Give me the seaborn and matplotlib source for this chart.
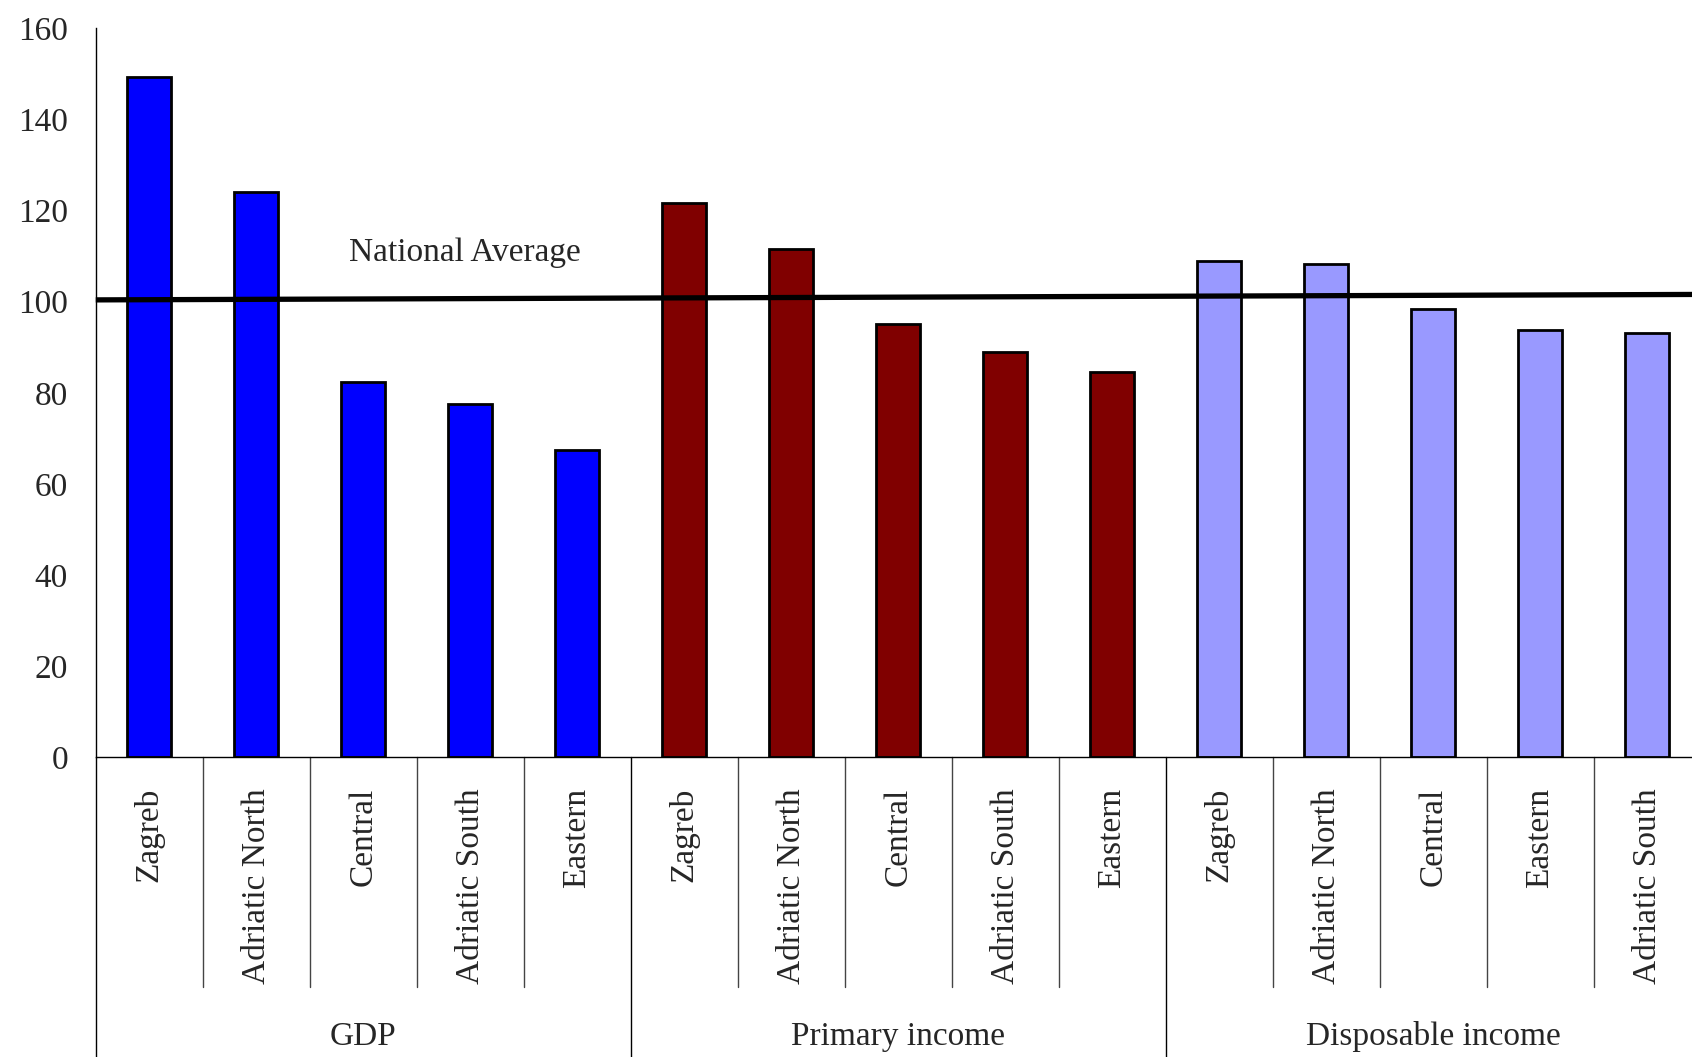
import pandas as pd
import numpy as np
import matplotlib
matplotlib.use('Agg')
import matplotlib.pyplot as plt
import seaborn as sns

# values (index, national average = 100)
groups = ['GDP', 'Primary income', 'Disposable income']
gdp_regions = ['Zagreb', 'Adriatic North', 'Central', 'Adriatic South', 'Eastern']
gdp_values = [149.3, 124.0, 82.4, 77.5, 67.4]
primary_regions = ['Zagreb', 'Adriatic North', 'Central', 'Adriatic South', 'Eastern']
primary_values = [121.6, 111.5, 95.1, 88.9, 84.5]
disposable_regions = ['Zagreb', 'Adriatic North', 'Central', 'Eastern', 'Adriatic South']
disposable_values = [108.9, 108.3, 98.3, 93.9, 93.2]
group_colors = ['#0000FF', '#800000', '#9999FF']
national_avg = [100.4, 101.6]   # line endpoints at left / right edge of plot
yticks = [0, 20, 40, 60, 80, 100, 120, 140, 160]

rows = []
for g, regs, vals in zip(groups, [gdp_regions, primary_regions, disposable_regions],
                         [gdp_values, primary_values, disposable_values]):
    for r, v in zip(regs, vals):
        rows.append({'key': g + '|' + r, 'region': r, 'group': g, 'value': v})
df = pd.DataFrame(rows)

sns.set_style('white')
plt.rcParams['font.family'] = ['Liberation Serif', 'DejaVu Serif']
plt.rcParams['font.size'] = 24

fig = plt.figure(figsize=(16.92, 10.57), dpi=100)
ax = fig.add_axes([0.0566, 0.2835, 0.9486, 0.6897])

sns.barplot(data=df, x='key', y='value', hue='group', hue_order=groups,
            palette=group_colors, saturation=1, dodge=False, width=0.41,
            edgecolor='black', linewidth=2, legend=False, ax=ax)

n = len(df)
ax.plot([-0.5, n - 0.5], national_avg, color='black', lw=3.8, solid_capstyle='butt',
        zorder=5, clip_on=False)
ax.text(1.87, 108.9, 'National Average', fontsize=24, ha='left', va='baseline')

ax.set_xlim(-0.5, n - 0.5)
ax.set_ylim(0, 160)
ax.set_yticks(yticks)
ax.set_yticklabels([str(t) for t in yticks], fontsize=24)
ax.set_xticks(range(n))
ax.set_xticklabels(df['region'], rotation=90, fontsize=24, va='top')
ax.tick_params(axis='x', length=0, pad=22)
ax.tick_params(axis='y', direction='out', length=8, width=1, pad=12, color='black')
ax.set_xlabel('')
ax.set_ylabel('')

for s in ['top', 'right']:
    ax.spines[s].set_visible(False)
for s in ['left', 'bottom']:
    ax.spines[s].set_color('black')
    ax.spines[s].set_linewidth(1)

# category separators and group separators below the axis
for i in range(n + 1):
    xb = i - 0.5
    if i % 5 == 0:
        ax.plot([xb, xb], [0, -75], color='black', lw=1, clip_on=False)
    else:
        ax.plot([xb, xb], [0, -50.4], color='#444444', lw=1, clip_on=False)

for k, g in enumerate(groups):
    ax.text(k * 5 + 2, -63.1, g, fontsize=24, ha='center', va='baseline')

fig.savefig('out.png', dpi=100)
